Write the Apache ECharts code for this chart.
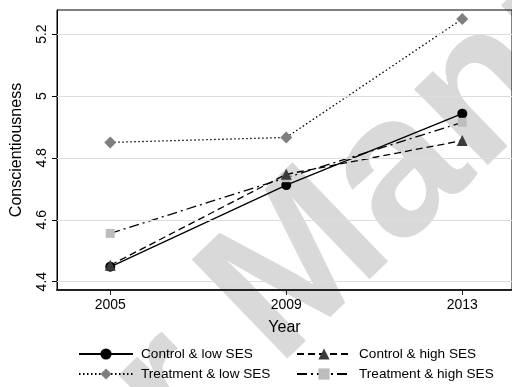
<!DOCTYPE html>
<html>
<head>
<meta charset="utf-8">
<script src="https://cdn.jsdelivr.net/npm/echarts@6/dist/echarts.min.js"></script>
<style>html,body{margin:0;padding:0;background:#fff}#c{width:512px;height:387px}</style>
</head>
<body>
<div id="c"></div>
<script>
const years = [2005, 2009, 2013];
const yTicks = [4.4, 4.6, 4.8, 5.0, 5.2];
const controlLow = [4.448, 4.712, 4.943];
const controlHigh = [4.453, 4.747, 4.856];
const treatLow = [4.850, 4.866, 5.249];
const treatHigh = [4.556, 4.736, 4.915];
const names = ['Control & low SES', 'Control & high SES', 'Treatment & low SES', 'Treatment & high SES'];

const FONT = 'Liberation Sans, Arial, sans-serif';
const chart = echarts.init(document.getElementById('c'), null, {renderer: 'canvas'});
function pts(v) { return years.map((y, i) => [y, v[i]]); }
function mk(name, vals, symbol, size, color, type, z) {
  return {
    name, type: 'line', data: pts(vals), symbol, symbolSize: size, z,
    itemStyle: {color: color, borderWidth: 0},
    lineStyle: {color: '#000', width: 1.3, type: type},
    emphasis: {disabled: true}, animation: false
  };
}
const series = [
  mk(names[0], controlLow, 'circle', 10, '#000000', 'solid', 2),
  mk(names[1], controlHigh, 'triangle', 11, '#3a3a3a', [7, 4], 3),
  mk(names[2], treatLow, 'diamond', 12, '#7f7f7f', [1.5, 2.5], 2),
  mk(names[3], treatHigh, 'rect', 9, '#bdbdbd', [10, 4, 2, 4], 2)
];
series.push({
  type: 'line', data: [], silent: true, animation: false,
  markLine: {symbol: 'none', silent: true, animation: false, label: {show: false},
    lineStyle: {color: '#dddddd', width: 1, type: 'solid'},
    data: yTicks.map(v => ({yAxis: v}))}
});
function leg(name, left, top) {
  return {
    left: left, top: top, data: [name], orient: 'horizontal',
    itemWidth: 54, itemHeight: 14, padding: 0,
    textStyle: {fontFamily: FONT, fontSize: 13.6, color: '#000', padding: [0, 0, 0, 3]},
    selectedMode: false
  };
}
chart.setOption({
  animation: false,
  textStyle: {fontFamily: FONT},
  grid: {left: 57, top: 10, right: -6, bottom: 97, show: true, borderColor: '#000', borderWidth: 1},
  xAxis: {
    type: 'value', min: 2003.79, max: 2014.13,
    name: 'Year', nameLocation: 'middle', nameGap: 30,
    nameTextStyle: {fontFamily: FONT, fontSize: 16, color: '#000'},
    axisLine: {show: true, lineStyle: {color: '#222', width: 2}},
    axisTick: {show: true, customValues: years, length: 5, lineStyle: {color: '#222'}},
    axisLabel: {customValues: years, fontFamily: FONT, fontSize: 14, color: '#000', margin: 8,
      formatter: v => String(v)},
    splitLine: {show: false}
  },
  yAxis: {
    type: 'value', min: 4.373, max: 5.278,
    name: 'Conscientiousness', nameLocation: 'middle', nameGap: 32,
    nameTextStyle: {fontFamily: FONT, fontSize: 16, color: '#000'},
    axisLine: {show: true, lineStyle: {color: '#000', width: 1}},
    axisTick: {show: true, customValues: yTicks, length: 5, lineStyle: {color: '#000'}},
    axisLabel: {customValues: yTicks, rotate: 90, fontFamily: FONT, fontSize: 14, color: '#000', margin: 8,
      formatter: v => String(parseFloat(v.toFixed(1)))},
    splitLine: {show: false}
  },
  legend: [
    leg(names[0], 78, 347),
    leg(names[1], 296, 347),
    leg(names[2], 78, 367),
    leg(names[3], 296, 367)
  ],
  graphic: [{
    type: 'text', z: -10, silent: true,
    x: 309, y: 400, rotation: 44 * Math.PI / 180,
    style: {text: 'Manuscript', fill: '#d9d9d9', font: 'bold 200px ' + FONT, textAlign: 'left', textVerticalAlign: 'bottom'}
  }, {
    type: 'text', z: -10, silent: true,
    x: 309, y: 400, rotation: 44 * Math.PI / 180,
    style: {text: 'Author ', fill: '#d9d9d9', font: 'bold 200px ' + FONT, textAlign: 'right', textVerticalAlign: 'bottom'}
  }],
  series
});
</script>
</body>
</html>
